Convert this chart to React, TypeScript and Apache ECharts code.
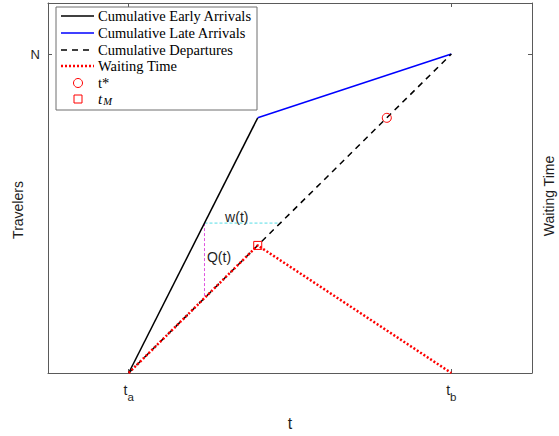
import React, { useEffect, useRef } from "react";
import * as echarts from "echarts";

// ---- data ----
const X_MIN = 0;
const X_MAX = 6;
const Y_MIN = 0;
const Y_MAX = 1.16;

const xTickValues = [1, 5];
const xTickSubs = ["a", "b"];
const yTickValues = [1];
const yTickLabels = ["N"];

const earlyArrivals = [[1, 0], [2.6, 0.8]];
const lateArrivals = [[2.6, 0.8], [5, 1]];
const departures = [[1, 0], [5, 1]];
const waitingTime = [[1, 0], [2.6, 0.4], [5, 0]];
const tStar = [[4.2, 0.8]];
const tMPoint = [[2.6, 0.4]];
const wSegment = [[1.94, 0.47], [2.88, 0.47]];
const qSegment = [[1.94, 0.47], [1.94, 0.235]];
const annotationNames = ["w(t)", "Q(t)"];
const annotationPos = [[2.34, 0.49], [2.12, 0.363]];

const legendNames = [
  "Cumulative Early Arrivals",
  "Cumulative Late Arrivals",
  "Cumulative Departures",
  "Waiting Time",
  "t*",
  "t_M",
];

const SANS = "Liberation Sans, Arial, sans-serif";
const SERIF = "Liberation Serif, Times New Roman, serif";
const AXIS_COLOR = "#5a5a5a";
const TEXT_COLOR = "#1e1e1e";

export default function App() {
  const ref = useRef<HTMLDivElement>(null);

  useEffect(() => {
    if (!ref.current) return;
    const chart = echarts.init(ref.current, null, { renderer: "svg" });

    const legendTop = 7;
    const legendLeft = 56;
    const rowY = [16, 33, 50, 66, 83, 99];
    const sx0 = 61;
    const sx1 = 94;
    const tx = 98;

    const legendGraphics: any[] = [
      {
        type: "rect",
        shape: { x: legendLeft, y: legendTop, width: 201, height: 103 },
        style: { fill: "#ffffff", stroke: "#6e6e6e", lineWidth: 1 },
        z: 100,
      },
      {
        type: "line",
        shape: { x1: sx0, y1: rowY[0], x2: sx1, y2: rowY[0] },
        style: { stroke: "#000000", lineWidth: 1.5 },
        z: 101,
      },
      {
        type: "line",
        shape: { x1: sx0, y1: rowY[1], x2: sx1, y2: rowY[1] },
        style: { stroke: "#0000ff", lineWidth: 1.5 },
        z: 101,
      },
      {
        type: "line",
        shape: { x1: sx0, y1: rowY[2], x2: sx1, y2: rowY[2] },
        style: { stroke: "#000000", lineWidth: 1.5, lineDash: [6, 5] },
        z: 101,
      },
      {
        type: "line",
        shape: { x1: sx0, y1: rowY[3], x2: sx1, y2: rowY[3] },
        style: { stroke: "#ff0000", lineWidth: 2.5, lineDash: [2, 2] },
        z: 101,
      },
      {
        type: "circle",
        shape: { cx: 78, cy: rowY[4], r: 4.5 },
        style: { fill: "none", stroke: "#ff0000", lineWidth: 1 },
        z: 101,
      },
      {
        type: "rect",
        shape: { x: 74, y: rowY[5] - 4, width: 8, height: 8 },
        style: { fill: "none", stroke: "#ff0000", lineWidth: 1 },
        z: 101,
      },
    ];
    for (let i = 0; i < 5; i++) {
      legendGraphics.push({
        type: "text",
        x: tx,
        y: rowY[i],
        style: {
          text: legendNames[i],
          font: `14.5px ${SERIF}`,
          fill: "#000000",
          verticalAlign: "middle",
        },
        z: 102,
      });
    }
    legendGraphics.push({
      type: "text",
      x: tx,
      y: rowY[5],
      style: {
        text: "{i|t}{s|M}",
        rich: {
          i: { fontFamily: SERIF, fontStyle: "italic", fontSize: 15, verticalAlign: "top", lineHeight: 16 },
          s: { fontFamily: SERIF, fontStyle: "italic", fontSize: 10.5, verticalAlign: "top", lineHeight: 16, padding: [5, 0, 0, 1] },
        },
        fill: "#000000",
        verticalAlign: "middle",
      },
      z: 102,
    });

    const option: any = {
      animation: false,
      backgroundColor: "#ffffff",
      grid: { left: 48, right: 27, top: 3, bottom: 55, containLabel: false },
      xAxis: [
        {
          type: "value",
          min: X_MIN,
          max: X_MAX,
          position: "bottom",
          name: "t",
          nameLocation: "middle",
          nameGap: 42,
          nameTextStyle: { fontFamily: SANS, fontSize: 16, color: TEXT_COLOR },
          axisLine: { show: true, onZero: false, lineStyle: { color: AXIS_COLOR, width: 1 } },
          axisTick: { show: true, inside: true, length: 4, customValues: xTickValues, lineStyle: { color: AXIS_COLOR } },
          axisLabel: {
            show: true,
            margin: 10,
            customValues: xTickValues,
            formatter: (v: number) => {
              const i = xTickValues.indexOf(v);
              return i >= 0 ? `{t|t}{s|${xTickSubs[i]}}` : "";
            },
            rich: {
              t: { fontFamily: SANS, fontSize: 14, color: TEXT_COLOR, verticalAlign: "top", lineHeight: 14 },
              s: { fontFamily: SANS, fontSize: 11.5, color: TEXT_COLOR, verticalAlign: "top", lineHeight: 14, padding: [8, 0, 0, 0] },
            },
          },
          splitLine: { show: false },
        },
        {
          type: "value",
          min: X_MIN,
          max: X_MAX,
          position: "top",
          axisLine: { show: true, onZero: false, lineStyle: { color: AXIS_COLOR, width: 1 } },
          axisTick: { show: true, inside: true, length: 4, customValues: xTickValues, lineStyle: { color: AXIS_COLOR } },
          axisLabel: { show: false },
          splitLine: { show: false },
        },
      ],
      yAxis: [
        {
          type: "value",
          min: Y_MIN,
          max: Y_MAX,
          position: "left",
          axisLine: { show: true, onZero: false, lineStyle: { color: AXIS_COLOR, width: 1 } },
          axisTick: { show: true, inside: true, length: 4, customValues: yTickValues, lineStyle: { color: AXIS_COLOR } },
          axisLabel: {
            show: true,
            margin: 8,
            customValues: yTickValues,
            formatter: (v: number) => {
              const i = yTickValues.indexOf(v);
              return i >= 0 ? `{n|${yTickLabels[i]}}` : "";
            },
            rich: {
              n: { fontFamily: SANS, fontSize: 13, color: TEXT_COLOR },
            },
            color: TEXT_COLOR,
          },
          splitLine: { show: false },
        },
        {
          type: "value",
          min: Y_MIN,
          max: Y_MAX,
          position: "right",
          axisLine: { show: true, onZero: false, lineStyle: { color: AXIS_COLOR, width: 1 } },
          axisTick: { show: true, inside: true, length: 4, customValues: yTickValues, lineStyle: { color: AXIS_COLOR } },
          axisLabel: { show: false },
          splitLine: { show: false },
        },
      ],
      graphic: [
        {
          type: "text",
          x: 18,
          y: 210,
          rotation: Math.PI / 2,
          style: {
            text: "Travelers",
            font: `14px ${SANS}`,
            fill: TEXT_COLOR,
            align: "center",
            verticalAlign: "middle",
          },
        },
        {
          type: "text",
          x: 549,
          y: 196,
          rotation: Math.PI / 2,
          style: {
            text: "Waiting Time",
            font: `14px ${SANS}`,
            fill: TEXT_COLOR,
            align: "center",
            verticalAlign: "middle",
          },
        },
        ...legendGraphics,
      ],
      series: [
        {
          name: legendNames[0],
          type: "line",
          data: earlyArrivals,
          symbol: "none",
          lineStyle: { color: "#000000", width: 1.5 },
          z: 3,
        },
        {
          name: legendNames[1],
          type: "line",
          data: lateArrivals,
          symbol: "none",
          lineStyle: { color: "#0000ff", width: 1.5 },
          z: 3,
        },
        {
          name: legendNames[2],
          type: "line",
          data: departures,
          symbol: "none",
          lineStyle: { color: "#000000", width: 1.5, type: [6, 5] },
          z: 3,
        },
        {
          name: "w(t) segment",
          type: "line",
          data: wSegment,
          symbol: "none",
          lineStyle: { color: "#55dde6", width: 1, type: [3, 2] },
          z: 2,
        },
        {
          name: "Q(t) segment",
          type: "line",
          data: qSegment,
          symbol: "none",
          lineStyle: { color: "#e055e0", width: 1, type: [3, 2] },
          z: 2,
        },
        {
          name: legendNames[3],
          type: "line",
          yAxisIndex: 1,
          data: waitingTime,
          symbol: "none",
          lineStyle: { color: "#ff0000", width: 2.5, type: [2, 2] },
          z: 4,
        },
        {
          name: legendNames[4],
          type: "scatter",
          data: tStar,
          symbol: "circle",
          symbolSize: 9,
          itemStyle: { color: "none", borderColor: "#ff0000", borderWidth: 1, opacity: 1 },
          z: 5,
        },
        {
          name: legendNames[5],
          type: "scatter",
          data: tMPoint,
          symbol: "rect",
          symbolSize: 8,
          itemStyle: { color: "none", borderColor: "#ff0000", borderWidth: 1, opacity: 1 },
          z: 5,
        },
        {
          name: "annotations",
          type: "scatter",
          data: annotationPos.map((p, i) => ({ name: annotationNames[i], value: p })),
          symbol: "circle",
          symbolSize: 1,
          itemStyle: { color: "rgba(0,0,0,0)", opacity: 1 },
          label: {
            show: true,
            position: "inside",
            formatter: (p: any) => `{a|${p.name}}`,
            rich: { a: { fontFamily: SANS, fontSize: 14, color: TEXT_COLOR } },
            color: TEXT_COLOR,
            opacity: 1,
            textBorderWidth: 0,
          },
          z: 6,
        },
      ],
    };

    chart.setOption(option);
    return () => chart.dispose();
  }, []);

  return (
    <div
      ref={ref}
      style={{ position: "absolute", left: 0, top: 0, width: 559, height: 436 }}
    />
  );
}
